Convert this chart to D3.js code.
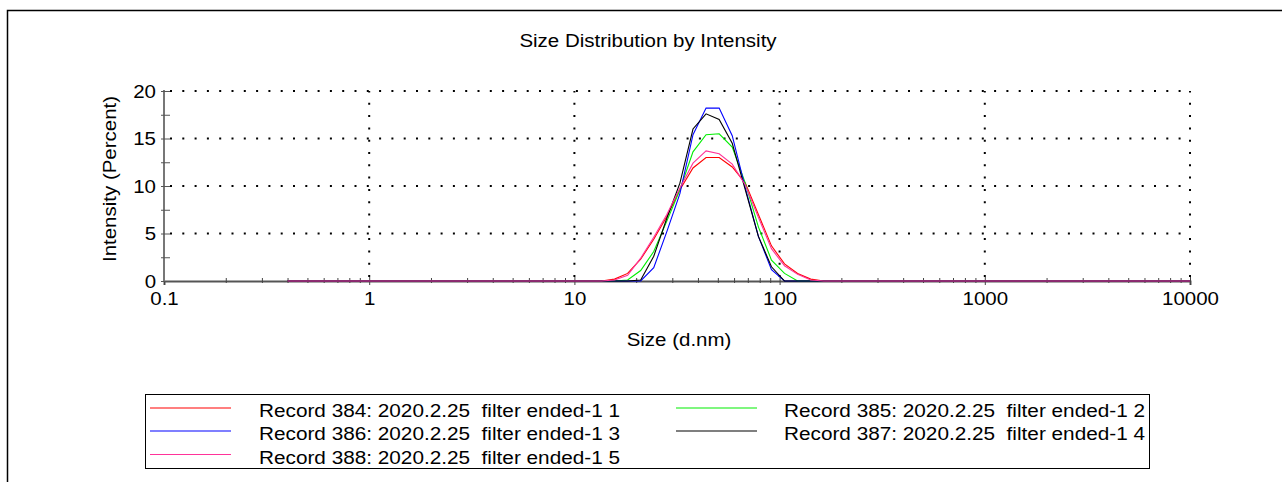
<!DOCTYPE html>
<html>
<head>
<meta charset="utf-8">
<script src="https://cdn.jsdelivr.net/npm/d3@7"></script>
<style>
  html, body { margin: 0; padding: 0; background: #fff; }
  svg { display: block; }
  text { font-family: "Liberation Sans", Arial, sans-serif; fill: #000; white-space: pre; }
</style>
</head>
<body>
<svg id="chart" width="1282" height="482"></svg>
<script>
// ---- Data ----
const sizes = [0.4,0.4632,0.5365,0.6213,0.7195,0.8332,0.9649,1.117,1.294,1.499,1.736,2.010,2.328,2.696,3.122,3.615,4.187,4.849,5.615,6.503,7.531,8.721,10.10,11.70,13.54,15.69,18.17,21.04,24.36,28.21,32.67,37.84,43.82,50.75,58.77,68.06,78.82,91.28,105.7,122.4,141.8,164.2,190.1,220.2,255.0,295.3,342.0,396.1,458.7,531.2,615.1,712.4,825.0,955.4,1106,1281,1484,1718,1990,2305,2669,3091,3580,4145,4801,5560,6439,7456,8635,10000];

const record384 = [0,0,0,0,0,0,0,0,0,0,0,0,0,0,0,0,0,0,0,0,0,0,0,0, 0,0.2,0.8,2.3,4.4,6.8,9.6,11.9,13.0,13.0,12.0,10.3,7.0,3.7,1.8,0.8,0.2,0, 0,0,0,0,0,0,0,0,0,0,0,0,0,0,0,0,0,0,0,0,0,0,0,0,0,0,0,0];
const record385 = [0,0,0,0,0,0,0,0,0,0,0,0,0,0,0,0,0,0,0,0,0,0,0,0, 0,0,0.1,1.1,3.1,6.3,9.6,13.6,15.4,15.5,14.1,10.3,5.7,2.2,0.8,0,0,0, 0,0,0,0,0,0,0,0,0,0,0,0,0,0,0,0,0,0,0,0,0,0,0,0,0,0,0,0];
const record386 = [0,0,0,0,0,0,0,0,0,0,0,0,0,0,0,0,0,0,0,0,0,0,0,0, 0,0,0,0,1.4,5.2,9.2,15.4,18.2,18.2,15.3,9.8,4.7,1.2,0,0,0,0, 0,0,0,0,0,0,0,0,0,0,0,0,0,0,0,0,0,0,0,0,0,0,0,0,0,0,0,0];
const record387 = [0,0,0,0,0,0,0,0,0,0,0,0,0,0,0,0,0,0,0,0,0,0,0,0, 0,0,0,0.1,2.6,6.6,10.3,16.0,17.6,17.0,14.5,9.6,4.7,1.5,0,0,0,0, 0,0,0,0,0,0,0,0,0,0,0,0,0,0,0,0,0,0,0,0,0,0,0,0,0,0,0,0];
const record388 = [0,0,0,0,0,0,0,0,0,0,0,0,0,0,0,0,0,0,0,0,0,0,0,0, 0,0.1,0.6,2.4,4.6,7.0,9.8,12.4,13.7,13.4,12.3,10.1,6.7,3.4,1.6,0.7,0.1,0, 0,0,0,0,0,0,0,0,0,0,0,0,0,0,0,0,0,0,0,0,0,0,0,0,0,0,0,0];

const seriesNames = [
  "Record 384: 2020.2.25  filter ended-1 1",
  "Record 385: 2020.2.25  filter ended-1 2",
  "Record 386: 2020.2.25  filter ended-1 3",
  "Record 387: 2020.2.25  filter ended-1 4",
  "Record 388: 2020.2.25  filter ended-1 5"
];
const seriesColors = ["#ff0000", "#00ee00", "#0000ff", "#000000", "#ff3399"];

const xMajorTicks = [0.1, 1, 10, 100, 1000, 10000];
const xTickLabels = ["0.1", "1", "10", "100", "1000", "10000"];
const xMinorTicks = [0.2,0.3,0.4,0.5,0.6,0.7,0.8,0.9, 2,3,4,5,6,7,8,9, 20,30,40,50,60,70,80,90, 200,300,400,500,600,700,800,900, 2000,3000,4000,5000,6000,7000,8000,9000];
const yMajorTicks = [0, 5, 10, 15, 20];
const yTickLabels = ["0", "5", "10", "15", "20"];
const yMinorTicks = [2.5, 7.5, 12.5, 17.5];

const titleText = "Size Distribution by Intensity";
const xLabelText = "Size (d.nm)";
const yLabelText = "Intensity (Percent)";

// ---- Layout ----
const svg = d3.select("#chart");
const L = 164, R = 1190, T = 91, B = 281;
const x = d3.scaleLog().domain([0.1, 10000]).range([L, R]);
const y = d3.scaleLinear().domain([0, 20]).range([B, T]);
const STRETCH = 1.17;

function stretch(sel) {
  sel.each(function() {
    const w = this.getComputedTextLength();
    d3.select(this).attr("textLength", w * STRETCH).attr("lengthAdjust", "spacingAndGlyphs");
  });
}

// outer frame
svg.append("rect").attr("x", 7.5).attr("y", 10.5).attr("width", 1400).attr("height", 600)
  .attr("fill", "none").attr("stroke", "#000").attr("stroke-width", 1.5);

// title
svg.append("text").attr("x", 648).attr("y", 47).attr("text-anchor", "middle")
  .style("font-size", "17.5px").text(titleText).call(stretch);

// grid
const grid = svg.append("g").attr("fill", "none").attr("stroke", "#000")
  .attr("stroke-width", 2).attr("stroke-dasharray", "2,10.3");
grid.selectAll("line.h").data(yMajorTicks.slice(1)).join("line")
  .attr("x1", L + 6).attr("x2", R).attr("y1", d => y(d)).attr("y2", d => y(d));
grid.selectAll("line.v").data(xMajorTicks.slice(1)).join("line")
  .attr("x1", d => x(d)).attr("x2", d => x(d)).attr("y1", B - 4).attr("y2", T);

// x axis
const xAxisG = svg.append("g").attr("transform", `translate(0,${B})`);
xAxisG.call(d3.axisBottom(x).tickValues(xMajorTicks).tickSize(4)
  .tickFormat((d, i) => xTickLabels[i]));
xAxisG.select(".domain").attr("stroke", "#555").attr("stroke-width", 2);
xAxisG.selectAll(".tick line").attr("stroke", "#444").attr("y1", -4).attr("y2", 4);
xAxisG.selectAll(".tick text").attr("y", 24).attr("dy", 0)
  .style("font-size", "17.5px").attr("font-family", null).call(stretch);
const xMinorG = svg.append("g").attr("transform", `translate(0,${B})`);
xMinorG.call(d3.axisBottom(x).tickValues(xMinorTicks).tickSize(2).tickFormat(""));
xMinorG.select(".domain").remove();
xMinorG.selectAll(".tick line").attr("stroke", "#444").attr("y1", -3).attr("y2", 2);

// y axis
const yAxisG = svg.append("g").attr("transform", `translate(${L},0)`);
yAxisG.call(d3.axisLeft(y).tickValues(yMajorTicks).tickSize(3)
  .tickFormat((d, i) => yTickLabels[i]));
yAxisG.select(".domain").attr("stroke", "#777").attr("stroke-width", 2).attr("d", `M0,${B}V${T - 1}`);
yAxisG.selectAll(".tick line").attr("stroke", "#555").attr("x1", -3).attr("x2", 6);
yAxisG.selectAll(".tick text").attr("x", -8).attr("dy", "0.36em")
  .style("font-size", "17.5px").attr("font-family", null).call(stretch);
const yMinorG = svg.append("g").attr("transform", `translate(${L},0)`);
yMinorG.call(d3.axisLeft(y).tickValues(yMinorTicks).tickSize(3).tickFormat(""));
yMinorG.select(".domain").remove();
yMinorG.selectAll(".tick line").attr("stroke", "#555").attr("x1", -3).attr("x2", 6);

// axis labels
svg.append("text").attr("x", 679).attr("y", 346).attr("text-anchor", "middle")
  .style("font-size", "17.5px").text(xLabelText).call(stretch);
svg.append("text").attr("transform", `translate(116,179) rotate(-90)`).attr("text-anchor", "middle")
  .style("font-size", "17.5px").text(yLabelText).call(stretch);

// series
const allSeries = [record384, record385, record386, record387, record388];
const line = d3.line().x((d, i) => x(sizes[i])).y(d => y(d));
svg.append("g").selectAll("path").data(allSeries).join("path")
  .attr("d", d => line(d)).attr("fill", "none")
  .attr("stroke", (d, i) => seriesColors[i]).attr("stroke-width", 1.1);

// legend
const lg = svg.append("g");
lg.append("rect").attr("x", 145.5).attr("y", 394.5).attr("width", 1004).attr("height", 74)
  .attr("fill", "#fff").attr("stroke", "#000").attr("stroke-width", 1);
const legendPos = [
  {lx: 150, ly: 408, tx: 259},
  {lx: 676, ly: 408, tx: 784},
  {lx: 150, ly: 431, tx: 259},
  {lx: 676, ly: 431, tx: 784},
  {lx: 150, ly: 454.5, tx: 259}
];
seriesNames.forEach((name, i) => {
  const p = legendPos[i];
  lg.append("line").attr("x1", p.lx).attr("x2", p.lx + 81).attr("y1", p.ly).attr("y2", p.ly)
    .attr("stroke", seriesColors[i]).attr("stroke-width", 1.1);
  lg.append("text").attr("x", p.tx).attr("y", p.ly + 9)
    .attr("xml:space", "preserve")
    .style("font-size", "17.5px").text(name)
    .attr("textLength", 361).attr("lengthAdjust", "spacingAndGlyphs");
});
</script>
</body>
</html>
